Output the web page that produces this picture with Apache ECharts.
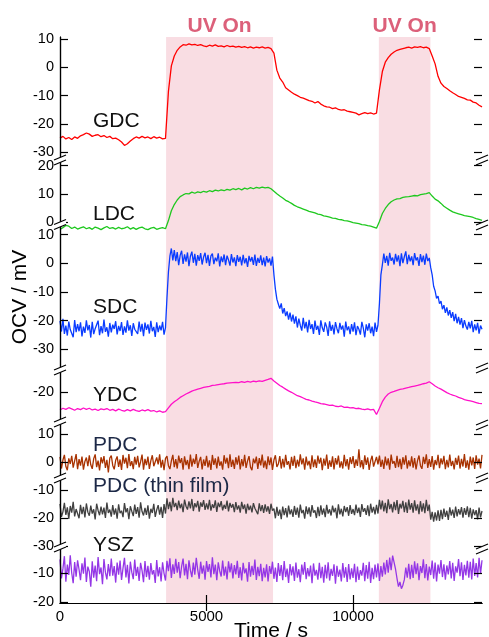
<!DOCTYPE html>
<html><head><meta charset="utf-8">
<script src="https://cdn.jsdelivr.net/npm/echarts@6/dist/echarts.min.js"></script>
<style>html,body{margin:0;padding:0;background:#fff}#c{width:489px;height:637px}</style>
</head><body><div id="c"></div><script>
// ---- data ----
// each series is sampled evenly from 0 s to tMax s
const tMax = 14400;
const uvPeriods = [[3620, 7270], [10880, 12640]];
const uvLabel = 'UV On';
const xTickLabels = [0, 5000, 10000];
const xTicks = [5000, 10000];
const xTitle = 'Time / s';
const yTitle = 'OCV / mV';

// 100 s samples
const gdc = [
 -25.0,-24.4,-25.3,-24.8,-25.5,-24.6,-25.1,-24.2,-23.8,-23.2,
 -23.6,-24.4,-24.0,-23.8,-24.5,-24.1,-24.8,-24.4,-25.2,-25.0,
 -25.6,-26.4,-27.6,-27.0,-26.0,-25.2,-24.6,-25.0,-24.4,-24.9,
 -24.6,-25.2,-24.5,-25.0,-24.7,-25.3,-25.1,-8.5,0.5,4.0,
 6.0,7.2,8.0,7.8,8.3,7.9,8.1,7.7,8.0,7.6,
 7.3,7.8,7.5,7.9,7.4,7.6,7.2,7.7,7.3,7.5,
 7.1,7.4,7.0,7.3,6.9,7.2,6.8,7.1,6.9,7.2,
 6.8,7.0,6.6,5.0,-1.0,-3.8,-5.2,-7.2,-8.0,-8.8,
 -9.5,-10.0,-10.6,-10.9,-11.3,-11.8,-12.0,-12.6,-12.1,-13.0,
 -13.6,-14.0,-14.1,-14.6,-14.3,-14.9,-15.1,-15.0,-15.5,-15.7,
 -15.9,-16.2,-16.8,-16.4,-16.0,-16.4,-16.1,-16.5,-16.2,-8.0,
 -1.5,1.8,3.4,4.6,5.4,6.0,6.3,6.6,6.9,7.1,
 6.8,7.2,7.0,7.3,6.9,7.1,6.6,4.0,1.2,-3.2,
 -5.6,-6.8,-7.5,-8.3,-9.0,-9.6,-10.3,-10.6,-11.0,-11.5,
 -11.6,-12.3,-12.6,-13.4,-14.0
];
const ldc = [
 -2.6,-2.0,-1.2,-1.5,-2.3,-1.8,-2.5,-2.1,-1.7,-2.4,
 -2.0,-2.6,-1.8,-2.2,-2.7,-2.1,-1.6,-2.3,-2.0,-2.5,
 -1.9,-2.4,-2.2,-1.7,-2.5,-2.0,-2.6,-2.1,-1.8,-2.4,
 -2.7,-2.2,-1.9,-2.6,-2.3,-2.0,-2.4,0.5,4.0,6.2,
 7.8,9.0,9.6,10.1,10.0,10.6,10.2,10.7,10.4,10.9,
 10.6,11.1,10.8,11.3,11.0,11.4,11.1,11.6,11.3,11.8,
 11.5,11.9,11.4,12.0,11.7,12.2,11.8,12.3,12.0,12.4,
 12.1,12.3,11.8,10.9,10.0,9.2,8.5,7.7,7.2,6.6,
 5.9,5.4,5.0,4.6,4.2,3.8,3.5,3.2,2.8,2.6,
 2.2,2.0,1.7,1.4,1.3,0.9,0.8,0.5,0.4,0.1,
 -0.2,-0.4,-0.6,-0.9,-1.0,-1.3,-1.5,-1.8,-2.2,0.2,
 3.0,4.8,6.2,7.2,7.8,8.2,8.3,8.7,8.9,9.0,
 9.2,9.4,9.3,9.7,9.9,10.1,10.4,9.2,8.1,7.5,
 6.6,5.6,4.9,4.2,3.6,3.2,2.9,2.6,2.3,2.1,
 1.9,1.6,1.2,0.9,0.6
];
const ydc = [
 -26.2,-25.6,-26.0,-25.4,-25.8,-26.3,-25.7,-26.1,-25.5,-26.0,
 -25.6,-26.2,-25.9,-26.4,-25.8,-26.1,-25.7,-26.3,-26.0,-26.5,
 -25.9,-26.3,-26.6,-26.1,-26.5,-26.0,-26.4,-26.7,-26.2,-26.5,
 -26.1,-26.6,-26.4,-26.9,-26.5,-27.0,-26.8,-25.5,-24.2,-23.3,
 -22.6,-21.8,-21.2,-20.6,-20.1,-19.6,-19.2,-18.9,-18.6,-18.3,
 -18.1,-17.9,-17.6,-17.5,-17.3,-17.1,-17.0,-16.8,-16.7,-16.6,
 -16.5,-16.6,-16.3,-16.5,-16.2,-16.4,-16.1,-16.3,-16.0,-16.2,
 -15.8,-15.5,-15.1,-16.0,-16.8,-17.6,-18.2,-18.9,-19.5,-20.0,
 -20.6,-21.2,-21.5,-22.0,-22.5,-22.7,-23.1,-23.4,-23.6,-24.0,
 -24.1,-24.3,-24.6,-24.5,-24.9,-25.0,-24.8,-25.3,-25.2,-25.5,
 -25.4,-25.7,-25.6,-25.9,-26.1,-25.8,-26.2,-26.0,-27.8,-25.6,
 -23.3,-21.7,-20.6,-20.0,-19.7,-19.3,-19.0,-18.8,-18.5,-18.3,
 -18.0,-17.8,-17.6,-17.3,-17.0,-16.8,-16.3,-17.0,-17.8,-18.4,
 -18.9,-19.5,-20.1,-20.6,-21.0,-21.3,-21.8,-22.1,-22.6,-22.8,
 -23.0,-23.3,-23.6,-23.9,-24.0
];
// 50 s samples (noisy traces)
const sdc = [
 -20.1,-23.8,-19.4,-24.6,-21.7,-25.2,-20.3,-23.1,-22.6,-25.8,-19.8,-24.0,-21.2,-23.7,-20.6,-25.5,-22.1,-24.3,-19.9,-23.4,
 -21.5,-25.9,-20.4,-24.7,-22.8,-23.3,-20.0,-25.1,-21.9,-24.4,-19.6,-23.9,-22.3,-25.6,-20.8,-24.1,-21.4,-22.9,-20.2,-24.8,
 -21.8,-23.6,-20.5,-25.0,-22.0,-24.2,-19.9,-23.5,-21.6,-25.3,-20.9,-23.0,-22.4,-24.6,-20.3,-23.8,-21.1,-25.4,-20.7,-23.2,
 -21.3,-24.5,-20.1,-23.7,-22.2,-25.7,-20.6,-24.0,-21.7,-23.4,-20.4,-24.9,-22.4,-12.0,-3.0,2.5,5.2,1.0,4.6,0.8,
 3.9,-0.6,2.8,4.4,-0.2,3.1,0.6,3.8,-1.0,2.5,4.1,0.2,3.3,-0.8,2.9,0.9,3.6,-0.4,2.2,3.7,
 0.1,3.0,-0.9,2.6,3.4,-0.3,2.0,0.7,3.5,-1.1,2.4,0.4,3.1,-0.6,2.7,1.2,-0.8,3.2,0.3,2.1,
 -1.0,2.9,0.5,2.3,-0.7,3.0,0.0,1.8,-1.2,2.6,0.6,2.2,-0.5,3.1,-0.9,1.9,0.2,2.8,-0.6,2.0,
 -1.1,2.5,0.3,1.7,-0.8,2.4,-4.0,-9.0,-12.5,-14.2,-15.8,-14.0,-17.5,-15.6,-18.4,-16.8,-19.6,-17.2,-20.3,-17.9,
 -21.0,-18.5,-22.4,-19.3,-21.6,-23.5,-19.0,-22.7,-20.4,-24.1,-19.7,-22.9,-21.2,-24.6,-20.0,-23.2,-21.8,-25.0,-19.9,-22.5,
 -23.9,-20.6,-22.2,-25.3,-20.2,-23.6,-21.5,-24.8,-20.5,-22.8,-24.4,-20.8,-23.1,-21.7,-25.6,-20.3,-23.4,-22.0,-24.7,-21.2,
 -23.8,-20.6,-25.1,-21.9,-23.0,-24.9,-20.4,-22.6,-25.8,-21.3,-23.5,-20.9,-24.4,-22.1,-25.4,-20.7,-23.9,-21.6,-14.0,-4.0,
 -0.5,3.4,0.2,2.6,-0.8,3.7,0.9,2.0,-0.4,3.3,0.6,2.8,-1.0,3.5,0.1,2.3,4.2,-0.3,3.0,0.7,
 2.4,-0.6,3.6,1.0,2.1,-0.9,3.2,0.4,2.7,-0.5,3.4,0.8,1.9,-1.5,-4.0,-8.0,-9.6,-12.2,-11.4,-14.1,
 -13.2,-16.0,-14.6,-17.3,-15.4,-18.2,-16.3,-19.0,-17.0,-20.2,-17.6,-20.9,-18.7,-21.4,-19.1,-22.6,-19.8,-21.9,-23.1,-20.4,
 -22.7,-20.1,-24.0,-21.3,-23.4,-20.8,-24.5,-21.7,-23.0
];
const pdc = [
 1.9,-2.2,0.8,2.6,-1.5,-2.8,1.4,-0.6,2.3,-1.9,0.5,2.9,-2.4,1.1,-1.2,2.0,-2.6,0.3,1.7,-1.4,
 2.5,-0.9,-2.3,1.3,2.8,-1.7,0.6,-2.9,1.8,-0.4,2.2,-2.0,0.9,-3.6,1.5,2.4,-1.1,-2.5,0.7,2.1,
 -1.6,1.0,-2.7,2.6,-0.5,1.6,-2.1,2.9,-1.3,0.4,-2.4,1.9,-0.8,2.3,-1.8,0.2,2.7,-2.6,1.2,-1.0,
 2.0,-2.3,0.6,2.5,-1.4,-2.0,1.7,-0.7,2.8,-1.9,0.9,-2.8,1.4,2.2,-1.2,-2.4,0.5,2.6,-1.7,1.1,
 -2.2,2.4,-0.3,1.5,-2.6,2.1,-1.0,0.8,-2.4,2.7,-1.5,1.3,-0.6,2.9,-2.0,0.4,1.9,-2.5,1.0,-1.3,
 2.3,-1.8,0.7,-2.7,2.6,-0.9,1.4,-2.2,2.0,-1.2,0.3,-2.6,2.5,-0.5,1.6,-2.1,2.8,-1.6,0.9,-2.3,
 1.8,-0.8,2.4,-2.5,1.1,-1.4,2.6,-2.0,0.5,2.2,-1.7,-2.8,1.3,-0.4,2.0,-2.3,1.5,-1.1,2.7,-1.9,
 0.6,-2.4,2.1,-1.0,1.7,-2.7,0.8,2.5,-1.6,-0.6,2.2,-2.2,1.2,-1.8,2.6,-0.9,0.4,-2.5,1.9,-1.3,
 2.3,-2.1,0.9,-1.5,2.8,-0.7,1.4,-2.6,2.0,-1.1,0.5,-2.4,2.5,-1.7,1.0,-2.0,2.4,-0.5,1.6,-2.8,
 1.3,-1.2,2.7,-2.3,0.7,-1.6,2.1,-2.5,1.5,-0.8,2.4,-1.9,0.3,-2.2,2.6,-1.4,1.1,-2.6,1.8,-0.6,
 2.2,-2.0,1.0,-1.3,4.6,-1.8,0.8,-2.4,2.5,-0.9,1.7,-2.7,0.6,2.3,-1.5,-2.1,1.9,-0.7,2.4,-1.6,
 0.9,-2.3,2.0,-1.1,1.4,-2.6,2.7,-0.5,0.4,-2.0,2.3,-1.7,1.2,-2.4,1.8,-0.8,2.5,-2.2,0.7,-1.4,
 2.1,-1.9,1.5,-2.5,0.6,2.4,-1.2,-2.3,1.9,-0.6,2.8,-2.0,1.1,-1.6,2.2,-2.6,0.8,-1.0,2.6,-2.1,
 1.4,-0.7,2.3,-2.4,0.9,-1.8,2.7,-1.3,0.5,-2.5,1.6,-0.9,2.4,-2.2,1.2,-1.5,2.9,-2.0,0.7,-2.6,
 2.0,-1.1,1.7,-2.3,2.5,-0.8,1.3,-2.2,2.6
];
const pdcThin = [
 -15.0,-19.6,-17.8,-14.6,-18.9,-16.2,-20.3,-15.7,-18.1,-14.2,-19.4,-16.8,-17.5,-20.1,-15.3,-18.6,-16.0,-19.8,-14.8,-17.9,
 -19.2,-15.6,-18.4,-16.9,-20.5,-14.9,-17.3,-19.0,-15.9,-18.7,-16.3,-20.0,-14.5,-18.2,-17.0,-19.5,-15.4,-18.8,-16.6,-20.2,
 -15.1,-18.3,-17.4,-19.7,-14.7,-18.0,-16.5,-20.4,-15.8,-17.6,-19.3,-15.2,-18.5,-16.1,-19.9,-14.4,-17.7,-19.1,-16.4,-18.9,
 -15.5,-20.2,-16.7,-18.2,-14.9,-19.6,-17.1,-15.4,-18.8,-16.0,-20.0,-15.0,-18.4,-13.0,-16.8,-14.2,-17.6,-12.8,-16.1,-14.6,
 -17.2,-13.8,-16.5,-14.9,-17.9,-13.4,-15.8,-17.0,-14.1,-16.6,-13.2,-17.5,-14.7,-16.2,-13.9,-17.7,-14.4,-16.0,-13.6,-17.1,
 -14.8,-16.9,-13.5,-17.4,-15.1,-16.4,-13.7,-17.8,-14.5,-16.1,-14.0,-17.3,-15.3,-16.7,-13.8,-17.6,-14.6,-16.3,-15.0,-17.9,
 -14.3,-17.0,-15.5,-18.1,-14.2,-16.8,-15.2,-18.4,-14.9,-17.2,-15.6,-18.0,-14.7,-16.5,-15.9,-18.6,-14.8,-17.5,-15.4,-18.2,
 -15.1,-17.7,-15.8,-18.5,-14.9,-17.4,-16.6,-20.1,-16.0,-19.2,-17.0,-20.4,-15.9,-19.0,-16.5,-19.8,-15.6,-18.7,-16.9,-19.6,
 -15.7,-18.9,-16.3,-19.9,-15.2,-18.3,-17.1,-20.2,-15.8,-18.6,-16.2,-19.5,-15.4,-18.1,-17.3,-20.0,-16.0,-19.3,-15.5,-18.8,
 -16.6,-19.7,-15.3,-18.4,-16.9,-19.1,-15.6,-18.0,-16.4,-20.1,-15.1,-18.7,-16.7,-19.4,-15.7,-17.9,-16.1,-19.2,-15.4,-18.5,
 -16.8,-19.0,-15.2,-18.2,-16.3,-19.6,-15.0,-17.8,-16.5,-18.9,-15.5,-19.3,-14.9,-18.1,-16.0,-18.7,-15.3,-18.4,-13.5,-16.9,
 -13.8,-17.6,-14.6,-18.3,-13.3,-16.8,-15.0,-18.0,-14.2,-17.2,-13.6,-18.5,-14.9,-16.6,-13.9,-17.9,-14.4,-18.2,-13.4,-17.0,
 -14.7,-18.1,-13.7,-17.4,-15.1,-18.6,-14.0,-17.7,-14.8,-18.3,-13.5,-17.5,-15.2,-20.6,-17.8,-21.3,-18.0,-20.9,-17.3,-21.0,
 -17.1,-20.4,-16.6,-19.6,-17.4,-20.7,-16.2,-19.1,-17.0,-20.0,-15.9,-19.4,-16.8,-18.8,-16.1,-19.9,-16.5,-18.9,-15.8,-19.7,
 -16.4,-20.2,-16.9,-19.0,-17.2,-20.5,-16.3,-19.8,-17.5
];
const ysz = [
 -5.2,-11.8,-8.4,-4.1,-12.9,-7.0,-10.6,-3.8,-9.9,-13.4,-6.1,-11.2,-5.5,-8.7,-12.4,-6.6,-10.1,-4.6,-13.0,-7.7,
 -9.4,-14.6,-5.9,-11.5,-7.3,-12.7,-4.4,-10.3,-8.0,-13.8,-5.1,-9.7,-12.1,-6.8,-11.0,-4.9,-10.8,-7.5,-13.2,-6.3,
 -10.5,-5.6,-12.3,-8.2,-4.7,-11.4,-7.1,-13.5,-6.0,-9.6,-12.0,-5.3,-10.9,-7.8,-12.6,-6.4,-9.1,-13.1,-5.8,-11.3,
 -7.4,-12.2,-6.5,-10.4,-8.9,-13.3,-5.4,-11.1,-7.9,-12.8,-6.2,-10.0,-12.5,-5.7,-9.3,-4.8,-11.6,-6.9,-10.2,-5.0,
 -9.8,-6.1,-11.7,-7.6,-4.9,-10.7,-6.7,-12.0,-5.5,-9.0,-11.3,-6.3,-10.5,-4.7,-8.8,-11.9,-6.0,-10.1,-7.3,-12.2,
 -5.8,-9.5,-6.8,-11.4,-4.5,-10.3,-7.0,-12.4,-6.2,-9.2,-11.1,-5.6,-10.8,-7.7,-12.1,-5.9,-9.7,-6.6,-11.8,-7.2,
 -10.4,-5.7,-11.6,-7.9,-12.5,-6.4,-10.0,-8.3,-12.9,-6.1,-11.2,-7.4,-10.6,-5.3,-12.3,-7.8,-11.0,-6.7,-12.7,-8.1,
 -11.4,-6.9,-12.8,-7.5,-10.2,-6.0,-11.9,-8.0,-13.0,-6.5,-10.9,-7.2,-12.4,-5.8,-11.3,-8.4,-13.3,-6.8,-10.7,-7.6,
 -12.6,-6.3,-11.5,-8.6,-13.1,-7.0,-10.5,-6.1,-12.0,-8.2,-11.1,-7.3,-13.4,-6.6,-10.8,-8.8,-12.2,-6.4,-11.7,-7.8,
 -13.2,-7.1,-11.8,-6.2,-12.5,-8.5,-10.9,-6.9,-13.6,-7.4,-11.2,-8.7,-12.8,-6.5,-11.5,-7.9,-13.0,-6.8,-12.1,-8.3,
 -11.6,-6.7,-13.1,-7.7,-12.3,-8.9,-10.8,-6.4,-12.7,-7.2,-11.9,-6.0,-13.3,-8.1,-12.0,-7.0,-11.4,-6.6,-12.6,-7.5,
 -11.2,-6.3,-10.4,-5.4,-9.8,-4.6,-8.9,-3.9,-4.5,-8.6,-11.8,-14.6,-13.0,-15.3,-14.1,-12.2,-8.0,-11.5,-6.7,-12.0,
 -7.1,-11.6,-5.9,-10.3,-6.6,-12.4,-7.5,-9.9,-5.2,-11.7,-6.8,-12.5,-7.7,-10.6,-5.6,-11.9,-6.3,-12.8,-7.0,-10.1,
 -5.4,-11.3,-6.9,-12.2,-7.3,-10.4,-5.8,-11.8,-6.4,-12.6,-7.6,-9.8,-5.1,-11.0,-6.2,-12.3,-7.1,-10.7,-5.7,-11.5,
 -6.0,-12.1,-4.9,-10.9,-6.5,-11.4,-4.7,-10.2,-5.5
];

const seriesNames = ['GDC', 'LDC', 'SDC', 'YDC', 'PDC', 'PDC (thin film)', 'YSZ'];
const seriesValues = [gdc, ldc, sdc, ydc, pdc, pdcThin, ysz];
const yTickValues = [
  [10, 0, -10, -20, -30],
  [20, 10, 0],
  [10, 0, -10, -20, -30],
  [-20],
  [10, 0],
  [-10, -20, -30],
  [-10, -20]
];
const yRanges = [[-32, 10.7], [-3.55, 22.0], [-30.94, 12.34], [-29.72, -12.88], [-4.84, 13.18], [-30.71, -7.14], [-20.24, -2.66]];

// ---- layout / style ----
const FONT = '"Liberation Sans", Arial, Helvetica, sans-serif';
const L = 60, R = 7, TOP = 37, BOTTOM_Y = 603;
const panelBox = [[37, 157.9], [160, 232], [228, 352], [372, 420], [425, 476], [482, 548], [552, 603]];
const colors = ['#ff0000', '#1ec81e', '#0a3cff', '#ff10c8', '#a83200', '#404040', '#9436e6'];
const lineWidths = [1.3, 1.3, 1.3, 1.3, 1.3, 1.3, 1.3];
const labelPos = [[93, 122], [93, 215], [93, 308], [93, 396], [93, 446], [93, 487], [93, 546]];
const labelColors = ['#111', '#111', '#111', '#111', '#1c2846', '#1c2846', '#111'];
const breaksY = [[160, 160], [224.5, 225], [370, 368], [422, 425], [478, 478], [547, 549]];
const fmt = v => String(v);

const grid = [{left: L, right: R, top: TOP, height: BOTTOM_Y - TOP, outerBoundsMode: 'none'}];
const xAxis = [
  {gridIndex: 0, type: 'value', min: 0, max: tMax, position: 'bottom', z: 10,
   axisLine: {lineStyle: {color: '#000', width: 1.2}},
   axisTick: {inside: true, length: 8, customValues: xTicks, lineStyle: {color: '#000', width: 1.2}},
   axisLabel: {customValues: xTickLabels, formatter: fmt, color: '#000', fontSize: 15, fontFamily: FONT, margin: 6},
   splitLine: {show: false},
   name: xTitle, nameLocation: 'middle', nameGap: 18, nameMoveOverlap: false,
   nameTextStyle: {fontSize: 21, color: '#000', fontFamily: FONT, verticalAlign: 'top'}},
  {gridIndex: 0, type: 'value', min: 0, max: tMax, position: 'top', z: 10,
   axisLine: {lineStyle: {color: '#000', width: 1.2}},
   axisTick: {inside: true, length: 8, customValues: xTicks, lineStyle: {color: '#000', width: 1.2}},
   axisLabel: {show: false}, splitLine: {show: false}}
];
const yAxis = [
  {gridIndex: 0, type: 'value', min: 0, max: 1, position: 'left', z: 10,
   axisLine: {show: true, lineStyle: {color: '#000', width: 1.2}},
   axisTick: {show: false}, axisLabel: {show: false}, splitLine: {show: false}},
  {gridIndex: 0, type: 'value', min: 0, max: 1, position: 'right', z: 10,
   axisLine: {show: true, lineStyle: {color: '#000', width: 1.2}},
   axisTick: {show: false}, axisLabel: {show: false}, splitLine: {show: false}}
];
const series = [{
  type: 'line', xAxisIndex: 0, yAxisIndex: 0, data: [], z: 1, silent: true,
  markArea: {
    silent: true,
    itemStyle: {color: '#f9dde3'},
    label: {show: true, position: 'top', distance: 0, color: '#dc607a', fontSize: 21,
            fontWeight: 'bold', fontFamily: FONT},
    data: uvPeriods.map(p => [{xAxis: p[0], name: uvLabel}, {xAxis: p[1]}])
  }
}];

seriesValues.forEach((vals, p) => {
  const [t, b] = panelBox[p];
  grid.push({left: L, right: R, top: t, height: b - t, outerBoundsMode: 'none'});
  const gi = p + 1;
  xAxis.push({gridIndex: gi, type: 'value', min: 0, max: tMax, show: false});
  const yBase = {gridIndex: gi, type: 'value', min: yRanges[p][0], max: yRanges[p][1], z: 10,
    axisLine: {show: false}, splitLine: {show: false}};
  yAxis.push(Object.assign({}, yBase, {position: 'left',
    axisTick: {show: true, inside: true, length: 8, customValues: yTickValues[p], lineStyle: {color: '#000', width: 1.2}},
    axisLabel: {show: true, customValues: yTickValues[p], formatter: fmt, color: '#000', fontSize: 14.5, fontFamily: FONT, margin: 6}}));
  yAxis.push(Object.assign({}, yBase, {position: 'right',
    axisTick: {show: true, inside: true, length: 8, customValues: yTickValues[p], lineStyle: {color: '#000', width: 1.2}},
    axisLabel: {show: false}}));
  const step = tMax / (vals.length - 1);
  series.push({
    type: 'line', name: seriesNames[p], xAxisIndex: p + 2, yAxisIndex: 2 + 2 * p,
    data: vals.map((v, i) => [i * step, v]),
    showSymbol: false, symbol: 'none', z: 3, clip: true,
    lineStyle: {color: colors[p], width: lineWidths[p]}
  });
});

const graphic = [];
seriesNames.forEach((n, p) => {
  graphic.push({type: 'text', left: labelPos[p][0], top: labelPos[p][1] - 11, z: 30,
    style: {text: n, fill: labelColors[p], font: '21px ' + FONT}});
});
graphic.push({type: 'text', x: 20, y: 297, rotation: Math.PI / 2, z: 30,
  style: {text: yTitle, fill: '#000', font: '21px ' + FONT, align: 'center', verticalAlign: 'middle'}});
function brk(x0, yc) {
  graphic.push({type: 'polygon', z: 40, shape: {points: [[x0 - 6, yc], [x0 + 6, yc - 5], [x0 + 6, yc], [x0 - 6, yc + 5]]},
    style: {fill: '#fff'}});
  graphic.push({type: 'line', z: 41, shape: {x1: x0 - 6, y1: yc, x2: x0 + 6, y2: yc - 5}, style: {stroke: '#000', lineWidth: 1.2}});
  graphic.push({type: 'line', z: 41, shape: {x1: x0 - 6, y1: yc + 5, x2: x0 + 6, y2: yc}, style: {stroke: '#000', lineWidth: 1.2}});
}
breaksY.forEach(b => { brk(L, b[0]); brk(489 - R, b[1]); });

const chart = echarts.init(document.getElementById('c'), null, {renderer: 'canvas'});
chart.setOption({animation: false, backgroundColor: '#fff', grid, xAxis, yAxis, series, graphic});
</script></body></html>
